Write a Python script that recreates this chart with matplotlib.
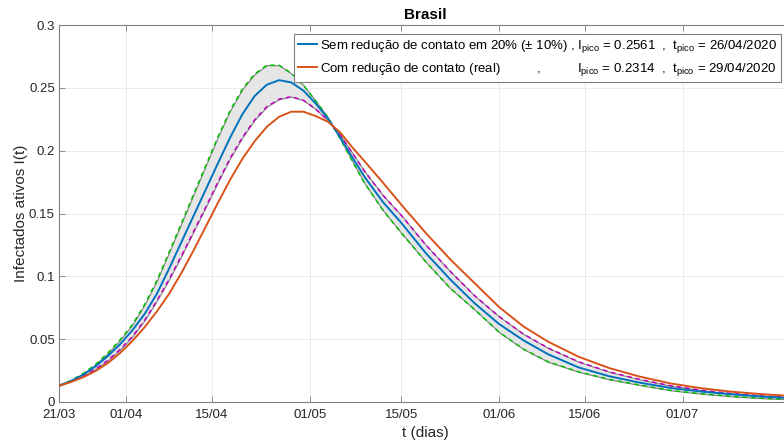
import matplotlib
matplotlib.use("Agg")
import matplotlib.pyplot as plt

# days since 21/03/2020
days = [0, 2, 4, 6, 8, 10, 12, 14, 16, 18, 20, 22, 24, 26, 28, 30, 32, 34,
        36, 38, 40, 42, 44, 46, 48, 50, 53, 56, 60, 64, 68, 72, 76, 80, 85,
        90, 95, 100, 105, 110, 115, 120]

# upper bound (-10% reduction scenario), green dashed
i_upper = [0.013, 0.0172, 0.0228, 0.0300, 0.0390, 0.0495, 0.0615, 0.0775,
           0.0965, 0.1190, 0.1420, 0.1650, 0.1880, 0.2110, 0.2320, 0.2490,
           0.2610, 0.2680, 0.2680, 0.2615, 0.2520, 0.2395, 0.2265, 0.2095,
           0.1915, 0.1740, 0.1525, 0.1345, 0.1115, 0.0905, 0.0735, 0.0555,
           0.0420, 0.0320, 0.0240, 0.0180, 0.0135, 0.0093, 0.0066, 0.0045,
           0.0030, 0.0020]
# central scenario (20%), blue
i_mid = [0.013, 0.0168, 0.0218, 0.0285, 0.0366, 0.0460, 0.0570, 0.0700,
         0.0860, 0.1060, 0.1270, 0.1480, 0.1690, 0.1900, 0.2105, 0.2290,
         0.2435, 0.2525, 0.2561, 0.2543, 0.2477, 0.2375, 0.2255, 0.2105,
         0.1945, 0.1790, 0.1590, 0.1425, 0.1185, 0.0975, 0.0785, 0.0620,
         0.0490, 0.0380, 0.0275, 0.0205, 0.0154, 0.0112, 0.0083, 0.0061,
         0.0043, 0.0030]
# lower bound (+10% reduction scenario), magenta dashed
i_lower = [0.013, 0.0164, 0.0208, 0.0263, 0.0332, 0.0418, 0.0520, 0.0650,
           0.0805, 0.0975, 0.1160, 0.1355, 0.1550, 0.1750, 0.1940, 0.2105,
           0.2245, 0.2350, 0.2410, 0.2430, 0.2400, 0.2330, 0.2240, 0.2125,
           0.1980, 0.1835, 0.1645, 0.1485, 0.1250, 0.1040, 0.0845, 0.0680,
           0.0540, 0.0430, 0.0320, 0.0240, 0.0180, 0.0130, 0.0095, 0.0068,
           0.0049, 0.0035]
# real contact reduction, orange
i_real = [0.013, 0.0160, 0.0198, 0.0247, 0.0310, 0.0390, 0.0485, 0.0595,
          0.0720, 0.0860, 0.1025, 0.1205, 0.1395, 0.1585, 0.1770, 0.1935,
          0.2075, 0.2190, 0.2270, 0.2310, 0.2310, 0.2275, 0.2230, 0.2145,
          0.2025, 0.1915, 0.1745, 0.1570, 0.1345, 0.1135, 0.0945, 0.0755,
          0.0600, 0.0480, 0.0360, 0.0270, 0.0202, 0.0148, 0.0110, 0.0082,
          0.0062, 0.0047]

tick_days = [0, 11, 25, 41, 56, 72, 86, 102]
tick_labels = ["21/03", "01/04", "15/04", "01/05", "15/05", "01/06", "15/06", "01/07"]
y_ticks = [0, 0.05, 0.1, 0.15, 0.2, 0.25, 0.3]
y_labels = ["0", "0.05", "0.1", "0.15", "0.2", "0.25", "0.3"]

plt.rcParams["font.family"] = ["Liberation Sans", "DejaVu Sans"]

fig = plt.figure(figsize=(7.84, 4.46), dpi=100)
ax = fig.add_axes([59 / 784, 44 / 446, 733.6 / 784, 377 / 446])

ax.fill_between(days, i_lower, i_upper, facecolor="#e6e6e6",
                edgecolor="#808080", linewidth=0.8, zorder=2)
ax.plot(days, i_upper, "--", color="#00c000", linewidth=1.1,
        dashes=(3, 2.5), zorder=3)
ax.plot(days, i_lower, "--", color="#c000c0", linewidth=1.1,
        dashes=(3, 2.5), zorder=3)

pico = r"$_{\mathregular{pico}}$"
lbl_mid = ("Sem redução de contato em 20% (± 10%) , "
           "I" + pico + " = 0.2561  ,  t" + pico + " = 26/04/2020")
lbl_real = ("Com redução de contato (real)" + " " * 10 + "," + " " * 10 +
            "I" + pico + " = 0.2314  ,  t" + pico + " = 29/04/2020")
ax.plot(days, i_mid, color="#0072bd", linewidth=1.4, zorder=4, label=lbl_mid)
ax.plot(days, i_real, color="#d95319", linewidth=1.4, zorder=4, label=lbl_real)

ax.set_xlim(0, 120)
ax.set_ylim(0, 0.3)
ax.set_xticks(tick_days)
ax.set_xticklabels(tick_labels)
ax.set_yticks(y_ticks)
ax.set_yticklabels(y_labels)
ax.tick_params(direction="in", length=4, width=0.6, colors="#7f7f7f",
               labelcolor="#262626", labelsize=9.5, top=True, right=True)
ax.tick_params(axis="x", pad=5)
ax.tick_params(axis="y", pad=3)
ax.grid(True, color="#e8e8e8", linewidth=0.6, zorder=0)
ax.set_axisbelow(True)
for s in ax.spines.values():
    s.set_color("#7f7f7f")
    s.set_linewidth(0.8)

ax.set_title("Brasil", fontweight="bold", fontsize=11, color="#000000", pad=4)
ax.set_xlabel("t (dias)", fontsize=11, color="#262626", labelpad=4)
ax.set_ylabel("Infectados ativos I(t)", fontsize=11, color="#262626", labelpad=1)

leg = ax.legend(loc="upper right", bbox_to_anchor=(0.9842, 0.976),
                borderaxespad=0, fancybox=False, framealpha=1,
                edgecolor="#7f7f7f", handlelength=1.5, handletextpad=0.2,
                borderpad=0.3, labelspacing=0.45, fontsize=9.5)
leg.get_frame().set_linewidth(0.8)
for t in leg.get_texts():
    t.set_color("#000000")

fig.savefig("out.png", dpi=100)
